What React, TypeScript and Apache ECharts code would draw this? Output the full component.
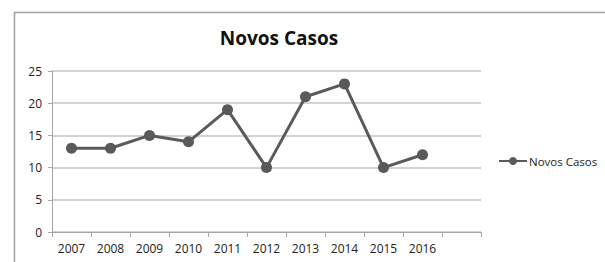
import React, { useEffect, useRef } from "react";
import * as echarts from "echarts";

const categories = ["2007", "2008", "2009", "2010", "2011", "2012", "2013", "2014", "2015", "2016", ""];
const novosCasos: (number | null)[] = [13, 13, 15, 14, 19, 10, 21, 23, 10, 12, null];
const yTicks = [0, 5, 10, 15, 20, 25];

export default function App() {
  const ref = useRef<HTMLDivElement>(null);
  useEffect(() => {
    if (!ref.current) return;
    const chart = echarts.init(ref.current, undefined, { renderer: "svg" });
    chart.setOption({
      animation: false,
      backgroundColor: "#ffffff",
      title: {
        text: "Novos Casos",
        left: 274,
        textAlign: "center",
        top: 23,
        textStyle: { fontFamily: "Open Sans", fontWeight: "bold", fontSize: 19, color: "#111" },
      },
      graphic: [
        {
          type: "rect",
          shape: { x: 14.5, y: 12.5, width: 620, height: 280 },
          style: { fill: "none", stroke: "#a0a0a0", lineWidth: 1.5 },
          silent: true,
        },
      ],
      legend: {
        left: 498,
        top: 155,
        itemWidth: 28,
        itemHeight: 10,
        itemGap: 4,
        padding: 0,
        textStyle: { fontFamily: "Open Sans", fontSize: 11.5, color: "#222", padding: [0, 0, 0, -3] },
        data: ["Novos Casos"],
      },
      grid: { left: 52, right: 124, top: 71, bottom: 30 },
      xAxis: {
        type: "category",
        data: categories,
        boundaryGap: true,
        axisLine: { lineStyle: { color: "#a6a6a6", width: 1 } },
        axisTick: { show: true, length: 5, alignWithLabel: false, lineStyle: { color: "#a6a6a6" } },
        axisLabel: { fontFamily: "Open Sans", fontSize: 12, color: "#222", margin: 10 },
      },
      yAxis: {
        type: "value",
        min: yTicks[0],
        max: yTicks[yTicks.length - 1],
        interval: 5,
        axisLine: { show: true, lineStyle: { color: "#a6a6a6", width: 1 } },
        axisTick: { show: true, length: 4, lineStyle: { color: "#a6a6a6" } },
        axisLabel: { fontFamily: "Open Sans", fontSize: 12, color: "#222", margin: 10 },
        splitLine: { lineStyle: { color: "#c4c4c4", width: 1.5 } },
      },
      series: [
        {
          name: "Novos Casos",
          type: "line",
          data: novosCasos,
          symbol: "circle",
          symbolSize: 11,
          itemStyle: { color: "#5a5a5a" },
          lineStyle: { color: "#5a5a5a", width: 3 },
        },
      ],
    });
    return () => chart.dispose();
  }, []);
  return <div ref={ref} style={{ position: "fixed", left: 0, top: 0, width: 605, height: 262 }} />;
}
